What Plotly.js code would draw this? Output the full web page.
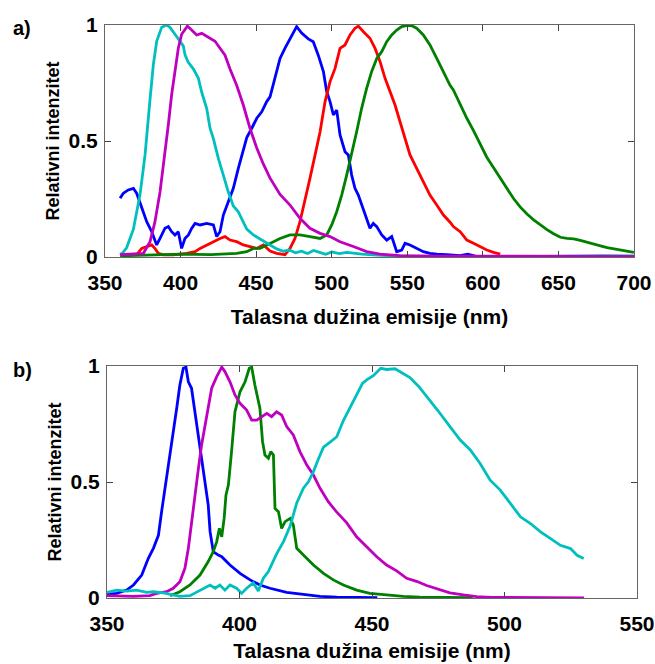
<!DOCTYPE html>
<html>
<head>
<meta charset="utf-8">
<script src="https://cdn.plot.ly/plotly-3.0.1.min.js"></script>
<style>html,body{margin:0;padding:0;background:#fff;}#chart{width:655px;height:664px;}</style>
</head>
<body>
<div id="chart"></div>
<script>
// ---------- Panel a) ----------
var aBlueX = [360,362,365.4,368.8,371,374.3,377.6,380.9,384.2,386.4,389.7,391.9,394.1,396.3,398.5,400.7,402.9,405.2,407.4,409.6,412.9,417.3,421.7,423.9,426.1,428.3,431.6,434.9,438.2,441.5,443.8,447.1,450.4,453.7,457,459.2,462.5,465.8,469.1,472.4,476.8,480.1,484.5,487.8,491.1,494.5,496.7,498.9,501.1,503.3,505.5,508.8,511,513.2,515.4,517.6,519.8,523.1,525.3,527.5,529.8,533.1,536.4,539.7,543,546.3,548.5,551.8,556.2,560.6,565,569.5,576,585,590,595,610,640,670,700];
var aBlueY = [0.253,0.274,0.289,0.296,0.274,0.21,0.152,0.109,0.052,0.08,0.124,0.131,0.109,0.095,0.109,0.037,0.08,0.095,0.124,0.145,0.138,0.145,0.138,0.088,0.109,0.181,0.239,0.296,0.382,0.468,0.515,0.555,0.598,0.626,0.67,0.69,0.77,0.856,0.90,0.94,0.993,0.965,0.94,0.928,0.87,0.799,0.712,0.67,0.612,0.633,0.526,0.454,0.44,0.353,0.296,0.267,0.224,0.167,0.124,0.145,0.131,0.095,0.073,0.088,0.023,0.03,0.059,0.052,0.037,0.023,0.016,0.012,0.01,0.006,0.012,0.004,0.003,0.002,0.001,0.0];

var aRedX = [371,374.3,377.6,380.9,383,385.3,388.6,395.2,404,409.6,412.9,417.3,421.7,426.1,429.4,432.7,437.1,441.5,445.9,450.4,454.8,459.2,463.6,467,469.1,472.4,475.7,479,482.3,485.6,489,492.3,495.6,498.9,502.2,505.5,508.8,512.1,515.4,517.6,521,525.3,528.7,532,535.3,538.6,541.9,545.2,548.5,551.8,556.2,560.6,565,569.5,573.9,578.3,580.5,585,589.4,593.8,598.2,602.6,607.1,611.5];
var aRedY = [0.01,0.037,0.045,0.052,0.037,0.016,0.009,0.009,0.016,0.023,0.037,0.052,0.066,0.08,0.088,0.073,0.066,0.052,0.045,0.037,0.052,0.026,0.016,0.014,0.01,0.037,0.08,0.152,0.239,0.339,0.44,0.54,0.67,0.756,0.813,0.899,0.914,0.957,0.986,0.995,0.971,0.943,0.899,0.842,0.77,0.713,0.655,0.583,0.511,0.44,0.382,0.325,0.267,0.224,0.181,0.15,0.131,0.109,0.073,0.059,0.045,0.03,0.02,0.012];

var aGreenX = [360,380,400,420,437.1,443.8,448.2,452.6,457,461.4,465.8,472.4,479,485.6,492.3,496.7,500,503.3,506.6,509.9,513.2,516.5,519.8,523.1,526.4,529.8,533.1,536.4,539.7,543,546.3,549.6,553,556.2,560.6,565,569.5,573.9,578.3,580.5,585,589.4,593.8,598.2,602.6,607.1,611.5,615.9,620.3,624.8,629.2,633.6,638,642.4,646.8,651.3,655.7,660.1,664.5,668.9,673.3,677.8,682.2,686.6,691,695.4,699.9];
var aGreenY = [0.005,0.008,0.012,0.01,0.016,0.023,0.037,0.037,0.052,0.066,0.08,0.095,0.095,0.088,0.08,0.095,0.138,0.195,0.267,0.353,0.44,0.54,0.641,0.727,0.799,0.856,0.885,0.928,0.957,0.978,0.993,0.997,0.997,0.986,0.957,0.914,0.856,0.799,0.74,0.72,0.655,0.598,0.545,0.487,0.43,0.385,0.34,0.295,0.252,0.215,0.185,0.16,0.138,0.118,0.1,0.085,0.080,0.078,0.072,0.063,0.055,0.048,0.040,0.035,0.029,0.023,0.020];

var aCyanX = [360,362,364.3,368.8,373.2,376.5,379.8,382,384.2,387.5,390.8,393,396.3,399.6,401.8,403,405,408.5,411.8,414,417.3,419.5,421.7,425,428.3,431.6,434.9,438.2,440.4,443.8,448.2,452.6,455.9,459.2,463.6,468,472,476,480,484,488,492,496,500,505,510,520,530,540,560,600,640,680,700];
var aCyanY = [0.01,0.02,0.04,0.12,0.27,0.44,0.68,0.83,0.93,0.99,1.0,0.99,0.96,0.93,0.91,0.87,0.84,0.81,0.77,0.71,0.64,0.555,0.51,0.425,0.35,0.28,0.22,0.195,0.165,0.12,0.095,0.078,0.066,0.05,0.035,0.025,0.03,0.018,0.025,0.015,0.028,0.02,0.012,0.022,0.015,0.02,0.012,0.008,0.005,0.003,0.002,0.003,0.006,0.005];

var aMagentaX = [360,375.4,379.8,383,386.4,389.7,391.9,394.1,396.3,398.5,400.7,404.5,406.3,410.7,414,417.3,422.8,426.1,429.4,432.7,437.1,441.5,445.9,450.4,454.8,459.2,465.8,472.4,479,485.6,492.3,498.9,505.5,514.3,523.1,531.9,545,570,620,700];
var aMagentaY = [0.01,0.016,0.066,0.15,0.28,0.44,0.57,0.70,0.81,0.90,0.96,0.995,0.985,0.957,0.964,0.95,0.93,0.90,0.87,0.81,0.74,0.655,0.555,0.47,0.40,0.34,0.27,0.224,0.167,0.124,0.102,0.088,0.066,0.045,0.023,0.012,0.006,0.004,0.003,0.003];

// ---------- Panel b) ----------
var bBlueX = [350,353.6,357.4,360,363.1,365.6,367.5,369.4,370.6,371.9,373.8,375,376.3,377.5,378.8,379.8,380.7,381.9,383.2,384.5,385.7,387,388.2,388.9,390.1,392,393.3,396.4,400.2,404,407.7,411.5,417.8,424.1,430.4,436.7,445,452];
var bBlueY = [0.016,0.02,0.034,0.056,0.099,0.171,0.214,0.27,0.372,0.473,0.602,0.703,0.818,0.918,0.99,0.995,0.932,0.904,0.803,0.703,0.588,0.501,0.401,0.286,0.2,0.185,0.178,0.142,0.106,0.078,0.056,0.042,0.024,0.016,0.007,0.004,0.002,0.001];

var bGreenX = [373.8,377.5,381.3,385.1,388.2,390.1,391.4,392.4,393.3,394.2,394.9,395.8,397,398.3,400.2,402.1,403.7,404.6,405.8,407.7,408.7,409.6,410.9,411.8,412.8,413.4,414.7,415.9,417.2,419.1,420.3,421.6,424.1,427.9,431.7,435.4,439.2,444.2,449.2,455.5,461.8,468.1,478,488];
var bGreenY = [0.01,0.027,0.056,0.099,0.157,0.2,0.243,0.3,0.264,0.343,0.444,0.487,0.631,0.803,0.889,0.932,0.99,0.995,0.918,0.818,0.674,0.616,0.602,0.631,0.616,0.386,0.372,0.3,0.329,0.343,0.315,0.214,0.185,0.142,0.106,0.078,0.056,0.034,0.02,0.013,0.007,0.004,0.002,0.001];

var bMagentaX = [350,359.9,366.2,368.7,372.5,375,377.5,379.4,380.7,381.9,383.2,384.5,385.7,387,388.2,389.5,391.4,393.3,394.5,396.4,398.3,400.2,402.7,404.6,406.5,408.4,410.3,412.1,414,415.9,417.8,420.3,422.8,425.4,427.9,430.4,433.5,436.7,440.4,444.2,448,451.8,455.5,459.3,463.1,466.8,470.6,474.4,479.4,484.5,489.5,495,510,530];
var bMagentaY = [0.01,0.007,0.01,0.02,0.027,0.042,0.07,0.128,0.214,0.329,0.444,0.559,0.66,0.746,0.832,0.904,0.954,0.995,0.976,0.932,0.875,0.839,0.81,0.767,0.767,0.782,0.796,0.782,0.803,0.789,0.739,0.703,0.631,0.573,0.53,0.473,0.415,0.37,0.325,0.264,0.221,0.178,0.142,0.117,0.085,0.072,0.054,0.04,0.022,0.013,0.006,0.003,0.001,0.0];

var bCyanX = [350,353.6,357.4,361.2,365,367.5,371.3,373.8,377.5,381.3,383.8,386.4,388.9,390.8,392.6,394.5,396.4,398.9,400.8,402.7,405.2,407.1,409,410.9,412.8,414,416.6,419.1,421.6,424.1,426,427.9,429.8,431.7,434.2,436.7,439.2,441.7,444.2,446.4,448,450.5,453.3,455.5,458.7,461.8,464.3,467.7,471.2,475,479,483.3,487.1,490.8,494.6,498.4,502.2,506,509.8,513.6,517.4,521.1,524.9,527.4,529.9];
var bCyanY = [0.024,0.034,0.03,0.034,0.024,0.027,0.022,0.016,0.007,0.01,0.024,0.042,0.056,0.042,0.056,0.034,0.056,0.042,0.02,0.042,0.065,0.03,0.085,0.114,0.16,0.19,0.243,0.31,0.41,0.473,0.501,0.545,0.6,0.65,0.672,0.695,0.765,0.82,0.875,0.925,0.94,0.958,0.99,0.985,0.988,0.965,0.95,0.911,0.862,0.806,0.745,0.681,0.638,0.58,0.508,0.465,0.408,0.35,0.321,0.285,0.256,0.227,0.213,0.184,0.17];

var yTickVals = [0, 0.5, 1];
var yTickText = ['0', '0.5', '1'];
var xTitleText = 'Talasna dužina emisije (nm)';
var yTitleText = 'Relativni intenzitet';

var C = {blue:'#0000FF', red:'#FF0000', green:'#008000', cyan:'#00BFBF', magenta:'#BF00BF'};
var LW = 2.8;

function tr(x, y, color, xa, ya) {
  return {x: x, y: y, type: 'scatter', mode: 'lines', xaxis: xa, yaxis: ya,
          line: {color: color, width: LW, shape: 'linear'}, hoverinfo: 'skip', showlegend: false};
}

var data = [
  tr(aBlueX, aBlueY, C.blue, 'x', 'y'),
  tr(aRedX, aRedY, C.red, 'x', 'y'),
  tr(aGreenX, aGreenY, C.green, 'x', 'y'),
  tr(aCyanX, aCyanY, C.cyan, 'x', 'y'),
  tr(aMagentaX, aMagentaY, C.magenta, 'x', 'y'),
  tr(bBlueX, bBlueY, C.blue, 'x2', 'y2'),
  tr(bGreenX, bGreenY, C.green, 'x2', 'y2'),
  tr(bMagentaX, bMagentaY, C.magenta, 'x2', 'y2'),
  tr(bCyanX, bCyanY, C.cyan, 'x2', 'y2')
];

var FAM = '"Liberation Sans", Arial, sans-serif';
var tickFont = {family: FAM, size: 21, color: '#000', weight: 700};
var titleFontX = {family: FAM, size: 21, color: '#000', weight: 700};
var titleFontY = {family: FAM, size: 18, color: '#000', weight: 700};

function xax(range, dom, anchor, tstand) {
  return {domain: dom, range: range, anchor: anchor, dtick: 50, tick0: 350,
    showgrid: false, zeroline: false, showline: true, mirror: 'ticks', linecolor: '#666', linewidth: 1,
    ticks: 'inside', ticklen: 6, tickwidth: 1, tickcolor: '#444', tickfont: tickFont,
    ticklabelstandoff: 7, ticklabeloverflow: 'allow',
    title: {text: xTitleText, font: titleFontX, standoff: tstand}, automargin: false};
}
function yax(dom, anchor) {
  return {domain: dom, range: [0, 1], anchor: anchor, tickvals: yTickVals, ticktext: yTickText,
    showgrid: false, zeroline: false, showline: true, mirror: 'ticks', linecolor: '#666', linewidth: 1,
    ticks: 'inside', ticklen: 6, tickwidth: 1, tickcolor: '#444', tickfont: tickFont,
    ticklabelstandoff: 2, ticklabeloverflow: 'allow',
    title: {text: yTitleText, font: titleFontY, standoff: 4}, automargin: false};
}

var W = 655, H = 664;
var labFont = {family: FAM, size: 20, color: '#000', weight: 700};
var layout = {
  width: W, height: H,
  margin: {l: 0, r: 0, t: 0, b: 0, pad: 0},
  paper_bgcolor: '#fff', plot_bgcolor: '#fff',
  showlegend: false,
  xaxis: xax([350, 700], [105 / W, 634 / W], 'y', 16),
  yaxis: yax([1 - 257 / H, 1 - 25 / H], 'x'),
  xaxis2: xax([350, 550], [107 / W, 637 / W], 'y2', 9),
  yaxis2: yax([1 - 598 / H, 1 - 366 / H], 'x2'),
  annotations: [
    {text: 'a)', xref: 'paper', yref: 'paper', x: 11 / W, y: 1 - 28 / H, xanchor: 'left', yanchor: 'middle',
     showarrow: false, font: labFont},
    {text: 'b)', xref: 'paper', yref: 'paper', x: 11 / W, y: 1 - 370 / H, xanchor: 'left', yanchor: 'middle',
     showarrow: false, font: labFont}
  ]
};

Plotly.newPlot('chart', data, layout, {staticPlot: true, displayModeBar: false});
</script>
</body>
</html>
